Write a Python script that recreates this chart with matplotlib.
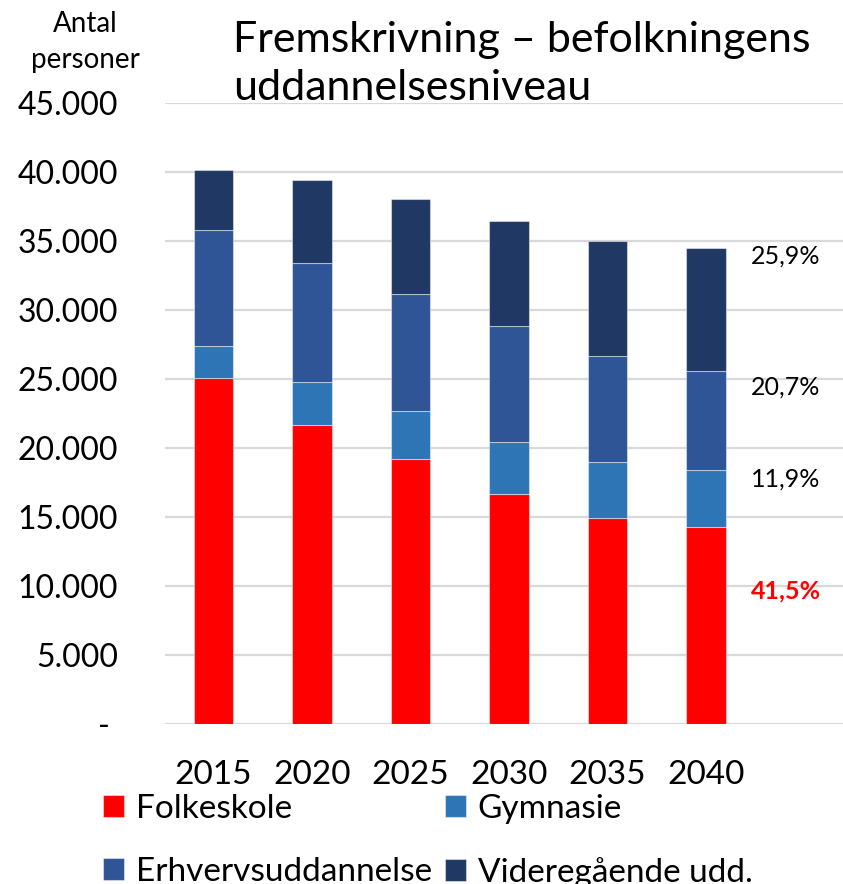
import matplotlib
matplotlib.use("Agg")
import matplotlib.pyplot as plt
from matplotlib.ticker import FuncFormatter

plt.rcParams['font.family'] = ['Lato', 'DejaVu Sans']

# data (antal personer)
years = ['2015', '2020', '2025', '2030', '2035', '2040']
folkeskole = [25070, 21690, 19180, 16690, 14950, 14300]
gymnasie = [2300, 3090, 3480, 3790, 4010, 4130]
erhverv = [8430, 8650, 8550, 8340, 7710, 7150]
videregaaende = [4340, 5990, 6830, 7630, 8380, 8940]

series_names = ['Folkeskole', 'Gymnasie', 'Erhvervsuddannelse', 'Videregående udd.']
colors = ['#FF0000', '#2E75B6', '#2F5597', '#203864']

# andele 2040, skrevet til højre for sidste søjle
pct_labels = ['41,5%', '11,9%', '20,7%', '25,9%']
pct_y = [9640, 17750, 24420, 33960]

fig = plt.figure(figsize=(8.43, 8.84), dpi=100)
ax = fig.add_axes([165/843, 160/884, 678/843, 620.7/884])

x = range(len(years))
bottom = [0] * len(years)
bars = []
for name, vals, c in zip(series_names, [folkeskole, gymnasie, erhverv, videregaaende], colors):
    b = ax.bar(x, vals, width=0.4, bottom=bottom, color=c, label=name,
               edgecolor=(1, 1, 1, 0.45), linewidth=0.8, zorder=3)
    bars.append(b)
    bottom = [b0 + v for b0, v in zip(bottom, vals)]

ax.set_xlim(-0.49, 6.39)
ax.set_ylim(0, 45000)
ax.set_yticks(range(0, 45001, 5000))
ax.yaxis.set_major_formatter(FuncFormatter(
    lambda v, p: '- ' if v == 0 else f'{v:,.0f}'.replace(',', '.')))
ax.set_xticks(list(x))
ax.set_xticklabels(years)
ax.tick_params(axis='y', length=0, pad=34, labelsize=23)
ax.tick_params(axis='x', length=0, pad=26, labelsize=24)
ax.yaxis.grid(True, color='#D9D9D9', linewidth=1.6, zorder=0)
ax.set_axisbelow(True)
for s in ax.spines.values():
    s.set_visible(False)

for lab, yv in zip(pct_labels, pct_y):
    if lab == pct_labels[0]:
        ax.text(5.81, yv, lab, ha='center', va='center', fontsize=18,
                color='#FF0000', fontweight='bold')
    else:
        ax.text(5.81, yv, lab, ha='center', va='center', fontsize=18, color='black')

fig.text(85/843, 1 - 42/884, 'Antal\npersoner', ha='center', va='center',
         fontsize=20, linespacing=1.45)
fig.text(233/843, 1 - 64/884, 'Fremskrivning – befolkningens\nuddannelsesniveau',
         ha='left', va='center', fontsize=31, linespacing=1.3)

# rækkefølge så første række bliver Folkeskole, Gymnasie
order = [0, 2, 1, 3]
fig.legend([bars[i] for i in order], [series_names[i] for i in order],
           ncol=2, loc='upper left', bbox_to_anchor=(103/843, 1 - 794/884),
           frameon=False, fontsize=24, borderpad=0, borderaxespad=0,
           handlelength=0.63, handleheight=0.63, handletextpad=0.35,
           columnspacing=0.4, labelspacing=0.98)

fig.savefig('out.png', dpi=100)
